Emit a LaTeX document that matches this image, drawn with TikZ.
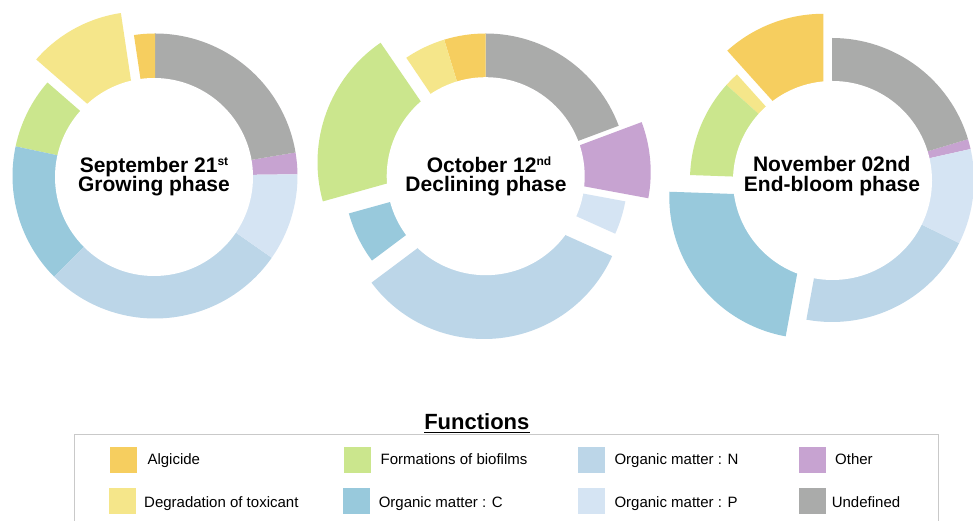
\documentclass[tikz,border=0pt]{standalone}
\usepackage{fontspec}
\setmainfont{Liberation Sans}
\definecolor{calg}{HTML}{F6CE5F}
\definecolor{cdeg}{HTML}{F5E68A}
\definecolor{cbio}{HTML}{CBE68D}
\definecolor{ccc}{HTML}{98C9DC}
\definecolor{cnn}{HTML}{BCD6E8}
\definecolor{cpp}{HTML}{D5E4F3}
\definecolor{coth}{HTML}{C7A3D1}
\definecolor{cund}{HTML}{AAABAA}
\definecolor{cbox}{HTML}{C9C9C9}
% slice: center, start angle, end angle, radius, colour, explode offset
\newcommand{\slc}[6]{\fill[#5] (#1) ++(#6) -- ++(#2:#4) arc[start angle=#2,end angle=#3,radius=#4] -- cycle;}
\newcommand{\supx}[1]{\raisebox{6.5pt}{\fontsize{12}{12}\selectfont #1}}
\begin{document}
\begin{tikzpicture}[x=1pt,y=1pt,
  lab/.style={font=\fontsize{21}{20}\selectfont\bfseries, inner sep=0pt, anchor=base},
  leg/.style={font=\fontsize{15}{15}\selectfont, inner sep=0pt, anchor=base west},
  swatch/.style={minimum width=27pt, minimum height=26pt, inner sep=0pt, draw=none},
  hole/.style={fill=white}]
\useasboundingbox (0,0) rectangle (973,521);
\fill[white] (0,0) rectangle (973,521);

% ---------- chart 1 ----------
\slc{155,345}{0.7}{9.5}{142.5}{coth}{0,0}
\slc{155,345}{9.5}{90}{142.5}{cund}{0,0}
\slc{155,345}{90}{98.5}{142.5}{calg}{0,0}
\slc{155,345}{98.5}{139}{139.5}{cdeg}{-13.5,25}
\slc{155,345}{139}{168}{142.5}{cbio}{0,0}
\slc{155,345}{168}{225}{142.5}{ccc}{0,0}
\slc{155,345}{225}{325}{142.5}{cnn}{0,0}
\slc{155,345}{325}{360.7}{142.5}{cpp}{0,0}
\fill[hole] (154,344) circle[radius=99];

% ---------- chart 2 ----------
\slc{485.7,345.5}{20.5}{90}{142}{cund}{0,0}
\slc{485.7,345.5}{90}{107}{142}{calg}{0,0}
\slc{485.7,345.5}{107}{124}{142}{cdeg}{0,0}
\slc{485.7,345.5}{124.4}{195.6}{145}{cbio}{-23.2,13.1}
\slc{485.7,345.5}{195.5}{216.8}{142}{ccc}{0,0}
\slc{485.7,345.5}{216.8}{335.8}{140.5}{cnn}{-1.7,-23}
\slc{485.7,345.5}{335.8}{349.5}{142}{cpp}{0,0}
\slc{485.7,345.5}{349.5}{380.5}{143}{coth}{22,3.3}
\fill[hole] (485.7,344.8) circle[radius=99];

% ---------- chart 3 ----------
\slc{832,341}{12.6}{16.7}{142}{coth}{0,0}
\slc{832,341}{16.7}{90}{142}{cund}{0,0}
\slc{832,341}{90}{132}{143.5}{calg}{-8.7,22.7}
\slc{832,341}{132}{138}{142}{cdeg}{0,0}
\slc{832,341}{138}{178}{142}{cbio}{0,0}
\slc{832,341}{178}{259.6}{142}{ccc}{-20.7,-16.7}
\slc{832,341}{259.6}{333.6}{142}{cnn}{0,0}
\slc{832,341}{333.6}{372.6}{142}{cpp}{0,0}
\fill[hole] (832.5,340.5) circle[radius=99.5];

% ---------- centre labels ----------
\node[lab] (t1a) at (154,348.7) {September 21\supx{st}};
\node[lab] (t1b) at (154,329.3) {Growing phase};
\node[lab] (t2a) at (489,348.7) {October 12\supx{nd}};
\node[lab] (t2b) at (486,329.3) {Declining phase};
\node[lab] (t3a) at (831.8,349) {November 02nd};
\node[lab] (t3b) at (832,329.3) {End-bloom phase};

% ---------- legend ----------
\node[font=\fontsize{22}{22}\selectfont\bfseries, inner sep=0pt, anchor=base] (ftitle) at (476.8,91.7) {Functions};
\draw[line width=1.5pt] ([yshift=-3pt]ftitle.base west) -- ([yshift=-3pt]ftitle.base east);
\draw[cbox, line width=1pt] (74,-5) -- (74,86) -- (938,86) -- (938,-5);

\node[swatch, fill=calg] (s1) at (123.3,61) {};
\node[leg] (l1) at (147.3,56) {Algicide};
\node[swatch, fill=cdeg] (s2) at (122.3,20) {};
\node[leg] (l2) at (144,13.7) {Degradation of toxicant};
\node[swatch, fill=cbio] (s3) at (357.3,61) {};
\node[leg] (l3) at (380.5,56) {Formations of biofilms};
\node[swatch, fill=ccc] (s4) at (356.3,20) {};
\node[leg] (l4) at (378.6,13.7) {Organic matter : C};
\node[swatch, fill=cnn] (s5) at (591.1,61) {};
\node[leg] (l5) at (614.3,56) {Organic matter : N};
\node[swatch, fill=cpp] (s6) at (591.1,20) {};
\node[leg] (l6) at (614.3,13.7) {Organic matter : P};
\node[swatch, fill=coth] (s7) at (812.5,61) {};
\node[leg] (l7) at (835,56) {Other};
\node[swatch, fill=cund] (s8) at (812.5,20) {};
\node[leg] (l8) at (831.6,13.7) {Undefined};
\end{tikzpicture}
\end{document}
